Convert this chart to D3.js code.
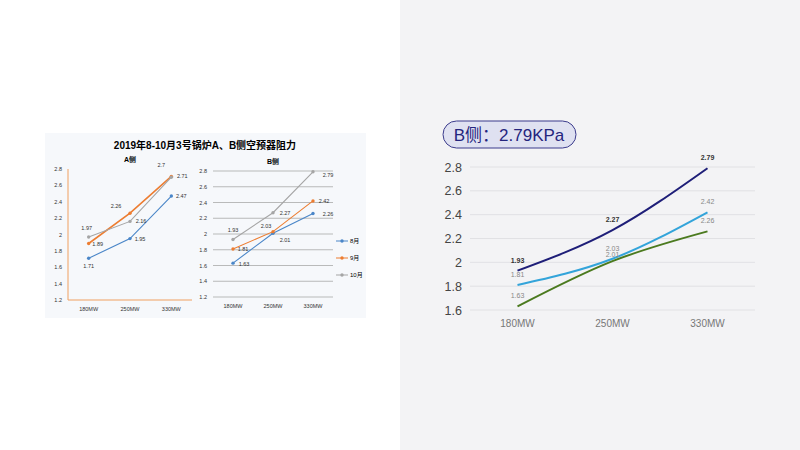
<!DOCTYPE html><html><head><meta charset="utf-8"><script src="https://cdn.jsdelivr.net/npm/d3@7"></script>
<style>body{margin:0}svg{display:block;font-family:Arial,"Liberation Sans","Noto Sans CJK SC",sans-serif}</style></head><body><svg width="800" height="450"></svg>
<script>
const cats=["180MW","250MW","330MW"];
const months=["8月","9月","10月"];
const monthColors=["#4a86c8","#ed7d31","#a5a5a5"];
const aSide=[[1.71,1.95,2.47],[1.89,2.26,2.71],[1.97,2.16,2.7]];
const bSide=[[1.63,2.01,2.26],[1.81,2.03,2.42],[1.93,2.27,2.79]];
const smallTicks=[1.2,1.4,1.6,1.8,2,2.2,2.4,2.6,2.8];
const mainSeries=[bSide[2],bSide[1],bSide[0]];
const mainColors=["#1e1e78","#33a4da","#4b7a1f"];
const mainLabelColors=["#333","#888","#888"];
const mainTicks=[1.6,1.8,2,2.2,2.4,2.6,2.8];

const svg=d3.select("svg");
svg.append("rect").attr("width",800).attr("height",450).attr("fill","#fff");
svg.append("rect").attr("x",400).attr("width",400).attr("height",450).attr("fill","#f3f3f5");

svg.append("rect").attr("x",45).attr("y",133).attr("width",321).attr("height",185).attr("fill","#f6f8fb");
svg.append("text").attr("x",205).attr("y",149).attr("text-anchor","middle").attr("font-size",10).attr("font-weight","bold").text("2019年8-10月3号锅炉A、B侧空预器阻力");

function small(data,x0,x1,yTop,yBot,title,grid,orangeAxis,labelOffsets){
  const x=d3.scalePoint().domain(cats).range([x0,x1]).padding(0.5);
  const y=d3.scaleLinear().domain([1.2,2.8]).range([yBot,yTop]);
  const g=svg.append("g");
  g.append("text").attr("x",(x0+x1)/2).attr("y",yTop-7).attr("text-anchor","middle").attr("font-size",7).attr("font-weight","bold").text(title);
  if(grid) g.selectAll(".gl").data(smallTicks).join("line").attr("x1",x0).attr("x2",x1).attr("y1",d=>y(d)).attr("y2",d=>y(d)).attr("stroke","#aaa").attr("stroke-width",0.8);
  g.selectAll(".tl").data(smallTicks).join("text").attr("x",x0-6).attr("y",d=>y(d)+2).attr("text-anchor","end").attr("font-size",5.5).attr("fill","#333").text(d=>d);
  g.selectAll(".xl").data(cats).join("text").attr("x",d=>x(d)).attr("y",yBot+11).attr("text-anchor","middle").attr("font-size",5.5).attr("fill","#333").text(d=>d);
  if(orangeAxis){g.append("path").attr("d",`M${x0},${yTop}V${yBot}H${x1}`).attr("fill","none").attr("stroke","#f0a060").attr("stroke-width",1);}
  const line=d3.line().x((d,i)=>x(cats[i])).y(d=>y(d));
  data.forEach((s,k)=>{
    g.append("path").attr("d",line(s)).attr("fill","none").attr("stroke",monthColors[k]).attr("stroke-width",k==1&&orangeAxis?1.6:1.1);
    g.selectAll(null).data(s).join("circle").attr("cx",(d,i)=>x(cats[i])).attr("cy",d=>y(d)).attr("r",1.7).attr("fill",monthColors[k]);
    g.selectAll(null).data(s).join("text").attr("x",(d,i)=>x(cats[i])+labelOffsets[k][i][0]).attr("y",(d,i)=>y(d)+labelOffsets[k][i][1]).attr("font-size",5.5).attr("fill","#333").attr("text-anchor","middle").text(d=>d);
  });
  return x;
}
small(aSide,68,192,169,300,"A侧",false,true,[[[0,10],[10,2],[10,2]],[[9,2],[-14,-5],[11,2]],[[-2,-7],[11,2],[-10,-10]]]);
small(bSide,213,333,171,297,"B侧",true,false,[[[11,3],[12,9],[15,2]],[[10,2],[-7,-4],[11,2]],[[0,-8],[12,2],[15,5]]]);
months.forEach((m,k)=>{
  const yy=241+k*17;
  svg.append("line").attr("x1",336).attr("x2",348).attr("y1",yy).attr("y2",yy).attr("stroke",monthColors[k]);
  svg.append("circle").attr("cx",342).attr("cy",yy).attr("r",1.7).attr("fill",monthColors[k]);
  svg.append("text").attr("x",350).attr("y",yy+2).attr("font-size",6).text(m);
});

svg.append("rect").attr("x",443).attr("y",121).attr("width",133).attr("height",27).attr("rx",13.5).attr("fill","#dfe1f1").attr("stroke","#3b3b8c").attr("stroke-width",1);
svg.append("text").attr("x",509).attr("y",140.5).attr("text-anchor","middle").attr("font-size",17).attr("fill","#25257e").text("B侧：2.79KPa");

const x=d3.scalePoint().domain(cats).range([470,755]).padding(0.5);
const y=d3.scaleLinear().domain([1.6,2.8]).range([310,167]);
svg.selectAll(".g").data(mainTicks).join("line").attr("x1",470).attr("x2",755).attr("y1",d=>y(d)).attr("y2",d=>y(d)).attr("stroke","#dcdcdf").attr("stroke-width",0.8);
svg.selectAll(".yt").data(mainTicks).join("text").attr("x",462).attr("y",d=>y(d)+4.5).attr("text-anchor","end").attr("font-size",12.5).attr("fill","#444").text(d=>d);
svg.selectAll(".xt").data(cats).join("text").attr("x",d=>x(d)).attr("y",327).attr("text-anchor","middle").attr("font-size",10).attr("fill","#777").text(d=>d);
const line=d3.line().x((d,i)=>x(cats[i])).y(d=>y(d)).curve(d3.curveMonotoneX);
mainSeries.forEach((s,k)=>{
  svg.append("path").attr("d",line(s)).attr("fill","none").attr("stroke",mainColors[k]).attr("stroke-width",2);
  svg.selectAll(null).data(s).join("text").attr("x",(d,i)=>x(cats[i])).attr("y",(d,i)=>y(d)-8+(i==1&&k==2?4:0)).attr("text-anchor","middle").attr("font-size",7).attr("fill",mainLabelColors[k]).attr("font-weight",k==0?"bold":"normal").text(d=>d);
});
</script></body></html>
